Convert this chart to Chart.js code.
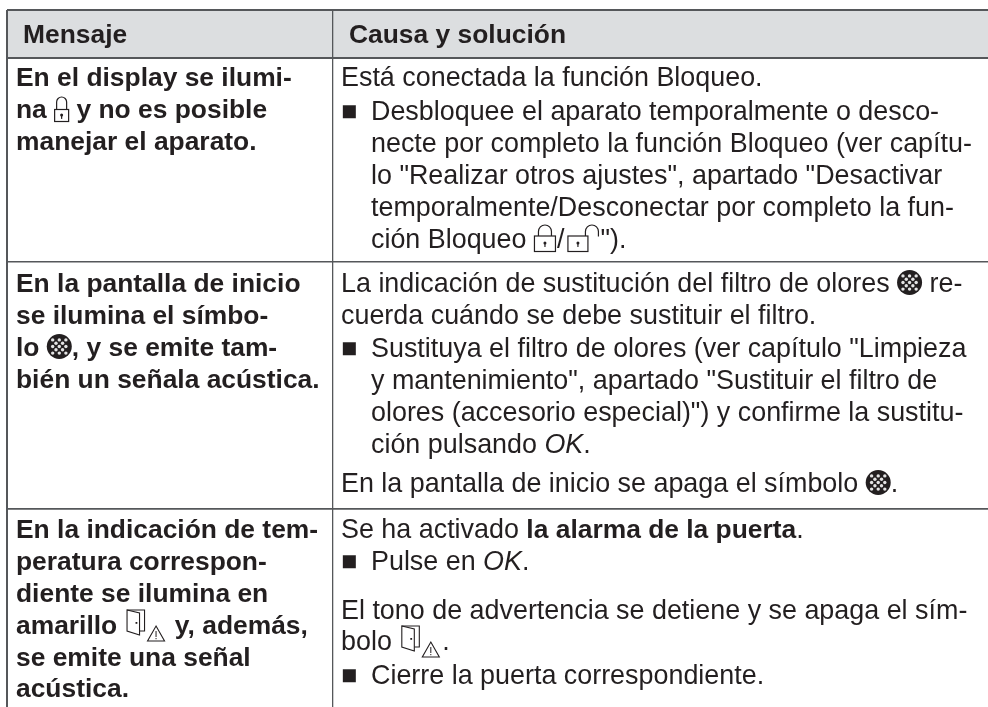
<!DOCTYPE html>
<html>
<head>
<meta charset="utf-8">
<style>
  html, body { margin: 0; padding: 0; background: #fff; }
  canvas { display: block; }
</style>
<script src="https://cdn.jsdelivr.net/npm/chart.js@4"></script>
</head>
<body>
<canvas id="table-chart" width="988" height="707"></canvas>
<script>
// table texts. {x} = inline symbol, **bold**, *italic*, "■ " = bullet
var headers = ["Mensaje", "Causa y solución"];
var messageLines = [
  "En el display se ilumi-",
  "na {lock} y no es posible",
  "manejar el aparato.",
  "En la pantalla de inicio",
  "se ilumina el símbo-",
  "lo {filter}, y se emite tam-",
  "bién un señala acústica.",
  "En la indicación de tem-",
  "peratura correspon-",
  "diente se ilumina en",
  "amarillo {door} y, además,",
  "se emite una señal",
  "acústica."
];
var causeLines = [
  "Está conectada la función Bloqueo.",
  "■ Desbloquee el aparato temporalmente o desco-",
  "necte por completo la función Bloqueo (ver capítu-",
  "lo \"Realizar otros ajustes\", apartado \"Desactivar",
  "temporalmente/Desconectar por completo la fun-",
  "ción Bloqueo {wlock}/{wunlock}\").",
  "La indicación de sustitución del filtro de olores {filter} re-",
  "cuerda cuándo se debe sustituir el filtro.",
  "■ Sustituya el filtro de olores (ver capítulo \"Limpieza",
  "y mantenimiento\", apartado \"Sustituir el filtro de",
  "olores (accesorio especial)\") y confirme la sustitu-",
  "ción pulsando *OK*.",
  "En la pantalla de inicio se apaga el símbolo {filter}.",
  "Se ha activado **la alarma de la puerta**.",
  "■ Pulse en *OK*.",
  "El tono de advertencia se detiene y se apaga el sím-",
  "bolo {door}.",
  "■ Cierre la puerta correspondiente."
];

// rules of the table, on the axes
var columnEdges = [7, 332.5];
var rowEdges = [10, 57.5, 262, 509];
var columnRuleWidths = [2, 1.3];
var rowRuleWidths = [2, 2, 1.5, 1.7];
var headerBand = [7, 988];

// where the text lines sit (same order as the texts)
var messageBaselines = [86, 118, 150, 292, 324, 356, 388, 538, 570, 602, 634, 666, 697];
var causeBaselines = [86, 120, 152, 184, 216, 248, 292, 324, 357, 389, 421, 453, 492, 538, 570, 619, 650, 684];
var causeIndents = [0, 1, 1, 1, 1, 1, 0, 0, 1, 1, 1, 1, 0, 0, 1, 0, 0, 1];

var INK = "#231f20";
var FONT = '"Liberation Sans"';
var SIZE = 26.9, BOLD_SIZE = 26.4;

function fontFor(style) {
  if (style == "b") return "bold " + BOLD_SIZE + "px " + FONT;
  return (style == "i" ? "italic " : "") + SIZE + "px " + FONT;
}

function drawLock(ctx, x, base, w, h, r, open) {
  var bodyBottom = base + 3.5, bodyTop = bodyBottom - h;
  ctx.save();
  ctx.strokeStyle = INK;
  ctx.fillStyle = INK;
  ctx.lineWidth = 1.2;
  ctx.strokeRect(x + 0.5, bodyTop, w - 1, h);
  var cx = open ? x + w + r - 3 : x + w / 2;
  var top = base - (r > 6 ? 23 : 21) + r;
  ctx.beginPath();
  ctx.moveTo(cx - r, bodyTop);
  ctx.lineTo(cx - r, top);
  ctx.arc(cx, top, r, Math.PI, 0);
  ctx.lineTo(cx + r, open ? top + 5 : bodyTop);
  ctx.stroke();
  ctx.beginPath();
  ctx.arc(x + w / 2, bodyTop + h * 0.45, 1.5, 0, Math.PI * 2);
  ctx.fill();
  ctx.fillRect(x + w / 2 - 0.6, bodyTop + h * 0.45, 1.2, 4);
  ctx.restore();
}

function drawFilter(ctx, x, base) {
  var r = 12.5, cx = x + r, cy = base - 9.5;
  ctx.save();
  ctx.fillStyle = INK;
  ctx.beginPath();
  ctx.arc(cx, cy, r, 0, Math.PI * 2);
  ctx.fill();
  ctx.fillStyle = "#e4e4e4";
  for (var i = -2; i <= 2; i++) {
    for (var j = -2; j <= 2; j++) {
      if (i * i + j * j > 4) continue;
      ctx.beginPath();
      ctx.arc(cx + (i + j) * 3.3, cy + (i - j) * 3.3, 1.7, 0, Math.PI * 2);
      ctx.fill();
    }
  }
  ctx.restore();
}

function drawDoor(ctx, x, base) {
  x += 2;
  ctx.save();
  ctx.strokeStyle = INK;
  ctx.fillStyle = INK;
  ctx.lineWidth = 1.1;
  // frame and leaf
  ctx.beginPath();
  ctx.moveTo(x + 0.5, base - 24);
  ctx.lineTo(x + 18, base - 24);
  ctx.lineTo(x + 18, base - 3);
  ctx.lineTo(x + 13, base - 3);
  ctx.stroke();
  ctx.beginPath();
  ctx.moveTo(x + 0.5, base - 24);
  ctx.lineTo(x + 13, base - 21);
  ctx.lineTo(x + 13, base + 1);
  ctx.lineTo(x + 0.5, base - 3);
  ctx.closePath();
  ctx.stroke();
  ctx.fillRect(x + 9, base - 12, 1.8, 1.8);
  // warning triangle
  ctx.beginPath();
  ctx.moveTo(x + 29.5, base - 8);
  ctx.lineTo(x + 38, base + 7);
  ctx.lineTo(x + 21, base + 7);
  ctx.closePath();
  ctx.stroke();
  ctx.fillRect(x + 29, base - 3, 1, 6);
  ctx.fillRect(x + 29, base + 4, 1, 1.2);
  ctx.restore();
}

var symbolWidths = { lock: 15, wlock: 23, wunlock: 36, filter: 25, door: 43 };

function drawSymbol(ctx, name, x, base) {
  if (name == "lock") drawLock(ctx, x, base, 15, 12, 5, false);
  if (name == "wlock") drawLock(ctx, x, base, 22, 15.5, 6.5, false);
  if (name == "wunlock") drawLock(ctx, x + 3, base, 21, 15.5, 6.5, true);
  if (name == "filter") drawFilter(ctx, x, base);
  if (name == "door") drawDoor(ctx, x, base);
}

// one line with its inline markup, left to right
function drawLine(ctx, line, x, base, style) {
  var parts = line.split(/(\*\*.+?\*\*|\*.+?\*|\{\w+\})/);
  parts.forEach(function (part) {
    if (!part) return;
    var s = style, t = part;
    if (part[0] == "{") {
      var name = part.slice(1, -1);
      drawSymbol(ctx, name, x, base);
      x += symbolWidths[name];
      return;
    }
    if (part.indexOf("**") == 0) { s = "b"; t = part.slice(2, -2); }
    else if (part[0] == "*") { s = "i"; t = part.slice(1, -1); }
    ctx.font = fontFor(s);
    ctx.fillText(t, x, base);
    x += ctx.measureText(t).width;
  });
}

var tableText = {
  id: "tableText",
  afterDraw: function (chart) {
    var ctx = chart.ctx, sx = chart.scales.x, sy = chart.scales.y;
    ctx.save();
    ctx.fillStyle = INK;
    ctx.textBaseline = "alphabetic";
    ctx.font = fontFor("b");
    ctx.fillText(headers[0], sx.getPixelForValue(23), sy.getPixelForValue(43));
    ctx.fillText(headers[1], sx.getPixelForValue(349), sy.getPixelForValue(43));
    messageLines.forEach(function (line, i) {
      drawLine(ctx, line, sx.getPixelForValue(16), sy.getPixelForValue(messageBaselines[i]), "b");
    });
    causeLines.forEach(function (line, i) {
      var base = sy.getPixelForValue(causeBaselines[i]);
      var t = line;
      if (t.indexOf("■ ") == 0) {
        ctx.font = fontFor("");
        ctx.fillText("■", sx.getPixelForValue(341), base);
        t = t.slice(2);
      }
      drawLine(ctx, t, sx.getPixelForValue(causeIndents[i] ? 371 : 341), base, "");
    });
    ctx.restore();
  }
};

new Chart(document.getElementById("table-chart"), {
  type: "bar",
  data: {
    datasets: [{
      data: [{ x: headerBand, y: (rowEdges[0] + rowEdges[1]) / 2 }],
      backgroundColor: "#dcdee0",
      barThickness: rowEdges[1] - rowEdges[0],
      borderWidth: 0
    }]
  },
  plugins: [tableText],
  options: {
    indexAxis: "y",
    responsive: false,
    animation: false,
    layout: { padding: { left: columnEdges[0], top: rowEdges[0], right: 0, bottom: 0 } },
    plugins: { legend: { display: false }, tooltip: { enabled: false }, title: { display: false } },
    scales: {
      x: {
        type: "linear",
        min: columnEdges[0],
        max: 988,
        offset: false,
        border: { display: false },
        ticks: { display: false },
        afterBuildTicks: function (axis) { axis.ticks = columnEdges.map(function (v) { return { value: v }; }); },
        grid: {
          z: 1,
          offset: false,
          color: "#55575a",
          drawTicks: false,
          lineWidth: function (c) { return columnRuleWidths[c.index]; }
        }
      },
      y: {
        type: "linear",
        min: rowEdges[0],
        max: 707,
        reverse: true,
        offset: false,
        border: { display: false },
        ticks: { display: false },
        afterBuildTicks: function (axis) { axis.ticks = rowEdges.map(function (v) { return { value: v }; }); },
        grid: {
          z: 1,
          offset: false,
          color: "#55575a",
          drawTicks: false,
          lineWidth: function (c) { return rowRuleWidths[c.index]; }
        }
      }
    }
  }
});
</script>
</body>
</html>
